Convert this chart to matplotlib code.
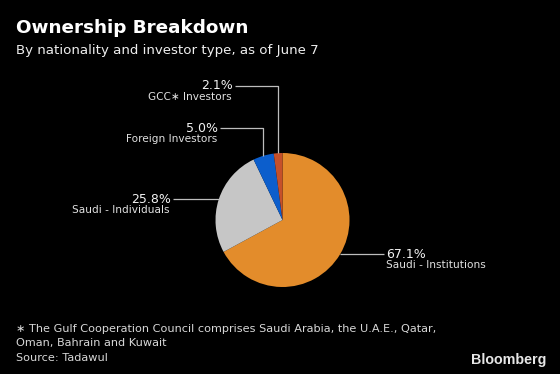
import numpy as np
import matplotlib
matplotlib.use("Agg")
import matplotlib.pyplot as plt

# data
categories = ["Saudi - Institutions", "Saudi - Individuals", "Foreign Investors", "GCC\u2217 Investors"]
shares = [67.1, 25.8, 5.0, 2.1]
colors = ["#E38C2B", "#C6C6C6", "#0C5ECC", "#C5502A"]

title = "Ownership Breakdown"
subtitle = "By nationality and investor type, as of June 7"
footnotes = ["\u2217 The Gulf Cooperation Council comprises Saudi Arabia, the U.A.E., Qatar,",
             "Oman, Bahrain and Kuwait",
             "Source: Tadawul"]

W, H = 560, 374
fig = plt.figure(figsize=(W / 100, H / 100), dpi=100, facecolor="black")
ax = fig.add_axes([0, 0, 1, 1])
ax.set_facecolor("black")


def py(y):
    # pixel row (from top) -> data y
    return H - y


# pie in pixel units
cx, cy, r = 282.5, py(220), 67
wedges, _ = ax.pie(shares, colors=colors, startangle=90, counterclock=False,
                   center=(cx, cy), radius=r, frame=True,
                   wedgeprops=dict(linewidth=0))
ax.set_xlim(0, W)
ax.set_ylim(0, H)
ax.set_aspect("equal")
ax.axis("off")

line_kw = dict(color="#BDBDBD", lw=0.9, solid_capstyle="butt")
pct_kw = dict(color="#F2F2F2", fontsize=9, va="baseline")
lab_kw = dict(color="#E0E0E0", fontsize=7.6, va="baseline")

# (mode, elbow y px / None, line end x px)
layout = [("right", None, 384), ("left", None, 173), ("up", 128, 220), ("up", 85.7, 235)]

for w, share, name, (mode, ey, ex) in zip(wedges, shares, categories, layout):
    mid = np.deg2rad((w.theta1 + w.theta2) / 2)
    ax_x = cx + r * np.cos(mid)
    ax_y = cy + r * np.sin(mid)
    if mode == "up":
        ly = py(ey)
        ax.plot([ax_x, ax_x, ex], [ax_y, ly, ly], **line_kw)
    else:
        ly = ax_y
        ax.plot([ax_x, ex], [ly, ly], **line_kw)
    if mode == "right":
        ax.text(ex + 2.5, ly - 3.5, f"{share:.1f}%", ha="left", **pct_kw)
        ax.text(ex + 2.5, ly - 14.2, name, ha="left", **lab_kw)
    else:
        ax.text(ex - 2, ly - 3.5, f"{share:.1f}%", ha="right", **pct_kw)
        ax.text(ex - 3, ly - 14.2, name, ha="right", **lab_kw)

# titles
ax.text(16, py(33), title, color="white", fontsize=13.2, fontweight="bold", va="baseline")
ax.text(16, py(54), subtitle, color="#EEEEEE", fontsize=9.6, va="baseline")

for yy, line in zip([332.3, 346.2, 360.7], footnotes):
    ax.text(16, py(yy), line, color="#D8D8D8", fontsize=8.1, va="baseline")

ax.text(546, py(364), "Bloomberg", color="#E6E6E6", fontsize=10.3, fontweight="bold",
        family=["Liberation Sans", "DejaVu Sans"], ha="right", va="baseline")

fig.savefig("out.png", dpi=100, facecolor="black")
